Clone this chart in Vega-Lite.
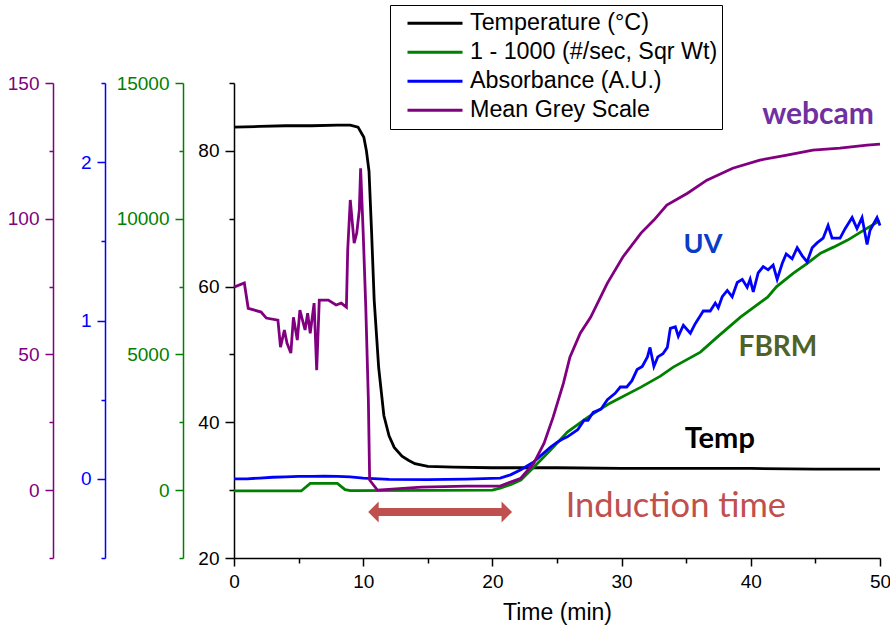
{
  "$schema": "https://vega.github.io/schema/vega-lite/v6.json",
  "width": 646,
  "height": 475,
  "autosize": {"type": "none"},
  "padding": {"left": 234, "top": 83, "right": 10, "bottom": 72},
  "background": "white",
  "config": {
    "view": {"stroke": null},
    "axis": {"labelFont": "Liberation Sans", "titleFont": "Liberation Sans", "grid": false, "labelOverlap": false, "labelFlush": false}
  },
  "datasets": {
    "temp": [
      {"t": 0, "T": 83.5}, {"t": 2, "T": 83.6}, {"t": 4, "T": 83.7}, {"t": 6, "T": 83.7}, {"t": 8, "T": 83.8},
      {"t": 9, "T": 83.8}, {"t": 9.6, "T": 83.5}, {"t": 10.05, "T": 82}, {"t": 10.25, "T": 80}, {"t": 10.45, "T": 77},
      {"t": 10.65, "T": 68}, {"t": 10.85, "T": 58}, {"t": 11.2, "T": 48}, {"t": 11.6, "T": 41}, {"t": 12, "T": 38},
      {"t": 12.4, "T": 36.3}, {"t": 13, "T": 35}, {"t": 13.5, "T": 34.4}, {"t": 14, "T": 33.9}, {"t": 15, "T": 33.5},
      {"t": 17, "T": 33.4}, {"t": 20, "T": 33.3}, {"t": 25, "T": 33.3}, {"t": 30, "T": 33.2}, {"t": 35, "T": 33.2},
      {"t": 40, "T": 33.2}, {"t": 45, "T": 33.1}, {"t": 50, "T": 33.1}
    ],
    "fbrm": [
      {"t": 0, "F": -30}, {"t": 5.2, "F": -30}, {"t": 5.9, "F": 250}, {"t": 8.0, "F": 250}, {"t": 8.6, "F": 20},
      {"t": 9, "F": -20}, {"t": 15, "F": -10}, {"t": 20, "F": 0}, {"t": 20.6, "F": 74}, {"t": 21.4, "F": 200},
      {"t": 22.2, "F": 368}, {"t": 23.2, "F": 847}, {"t": 24.5, "F": 1474}, {"t": 25.8, "F": 2137}, {"t": 27.4, "F": 2690},
      {"t": 29.1, "F": 3205}, {"t": 31.5, "F": 3795}, {"t": 33, "F": 4200}, {"t": 34, "F": 4532}, {"t": 36.1, "F": 5085},
      {"t": 37.4, "F": 5637}, {"t": 39.2, "F": 6374}, {"t": 41.3, "F": 7111}, {"t": 42, "F": 7500}, {"t": 43.3, "F": 7995},
      {"t": 44.4, "F": 8364}, {"t": 45.4, "F": 8732}, {"t": 46.4, "F": 8953}, {"t": 47.5, "F": 9212}, {"t": 48.5, "F": 9506},
      {"t": 49.8, "F": 9875}, {"t": 50, "F": 9900}
    ],
    "abs": [
      {"t": 0, "A": 0.0}, {"t": 1, "A": 0.0}, {"t": 2, "A": 0.005}, {"t": 3, "A": 0.01}, {"t": 4, "A": 0.012},
      {"t": 5, "A": 0.015}, {"t": 6, "A": 0.016}, {"t": 7, "A": 0.017}, {"t": 8, "A": 0.015}, {"t": 9, "A": 0.012},
      {"t": 10, "A": 0.005}, {"t": 12, "A": -0.003}, {"t": 15, "A": -0.005}, {"t": 18, "A": -0.002}, {"t": 20.6, "A": 0.005},
      {"t": 21.4, "A": 0.025}, {"t": 22.2, "A": 0.057}, {"t": 23.2, "A": 0.107}, {"t": 24.5, "A": 0.2}, {"t": 25.0, "A": 0.23},
      {"t": 25.4, "A": 0.25}, {"t": 25.8, "A": 0.265}, {"t": 26.6, "A": 0.31}, {"t": 27.1, "A": 0.37}, {"t": 27.4, "A": 0.37},
      {"t": 27.8, "A": 0.42}, {"t": 28.4, "A": 0.44}, {"t": 28.9, "A": 0.5}, {"t": 29.5, "A": 0.54}, {"t": 29.9, "A": 0.58},
      {"t": 30.4, "A": 0.58}, {"t": 30.8, "A": 0.62}, {"t": 31.2, "A": 0.69}, {"t": 31.6, "A": 0.71}, {"t": 32.0, "A": 0.77},
      {"t": 32.2, "A": 0.83}, {"t": 32.5, "A": 0.71}, {"t": 32.8, "A": 0.77}, {"t": 33.2, "A": 0.79}, {"t": 33.54, "A": 0.83},
      {"t": 33.77, "A": 0.95}, {"t": 34.16, "A": 0.96}, {"t": 34.39, "A": 0.9}, {"t": 34.78, "A": 0.97}, {"t": 35.32, "A": 0.92},
      {"t": 35.7, "A": 0.98}, {"t": 36.09, "A": 1.03}, {"t": 36.32, "A": 1.06}, {"t": 36.86, "A": 1.06}, {"t": 37.25, "A": 1.11},
      {"t": 37.48, "A": 1.08}, {"t": 37.79, "A": 1.15}, {"t": 38.18, "A": 1.19}, {"t": 38.56, "A": 1.15}, {"t": 38.95, "A": 1.24},
      {"t": 39.34, "A": 1.26}, {"t": 39.72, "A": 1.21}, {"t": 39.95, "A": 1.26}, {"t": 40.19, "A": 1.18}, {"t": 40.57, "A": 1.3},
      {"t": 40.96, "A": 1.34}, {"t": 41.34, "A": 1.32}, {"t": 41.73, "A": 1.35}, {"t": 42.04, "A": 1.26}, {"t": 42.43, "A": 1.36},
      {"t": 42.74, "A": 1.42}, {"t": 43.2, "A": 1.39}, {"t": 43.59, "A": 1.46}, {"t": 43.97, "A": 1.41}, {"t": 44.36, "A": 1.37},
      {"t": 44.75, "A": 1.46}, {"t": 45.13, "A": 1.49}, {"t": 45.6, "A": 1.52}, {"t": 45.98, "A": 1.6}, {"t": 46.29, "A": 1.52},
      {"t": 46.91, "A": 1.52}, {"t": 47.3, "A": 1.58}, {"t": 47.84, "A": 1.65}, {"t": 48.22, "A": 1.58}, {"t": 48.61, "A": 1.65},
      {"t": 49.0, "A": 1.48}, {"t": 49.23, "A": 1.57}, {"t": 49.77, "A": 1.65}, {"t": 50, "A": 1.6}
    ],
    "grey": [
      {"t": 0, "G": 74.8}, {"t": 0.8, "G": 76.3}, {"t": 1.1, "G": 67}, {"t": 2.1, "G": 65.6}, {"t": 2.5, "G": 63.4},
      {"t": 3.4, "G": 62.6}, {"t": 3.6, "G": 52.7}, {"t": 3.9, "G": 59}, {"t": 4.1, "G": 54.2}, {"t": 4.4, "G": 50.5},
      {"t": 4.6, "G": 63.7}, {"t": 4.9, "G": 55.3}, {"t": 5.1, "G": 66.3}, {"t": 5.5, "G": 59}, {"t": 5.7, "G": 65.2},
      {"t": 5.9, "G": 57.8}, {"t": 6.2, "G": 68.9}, {"t": 6.4, "G": 44.2}, {"t": 6.6, "G": 70}, {"t": 7.3, "G": 70},
      {"t": 7.9, "G": 68.2}, {"t": 8.3, "G": 68.9}, {"t": 8.7, "G": 67.4}, {"t": 8.8, "G": 88.4}, {"t": 9.0, "G": 106.9},
      {"t": 9.3, "G": 91}, {"t": 9.5, "G": 94.7}, {"t": 9.7, "G": 103.2}, {"t": 9.8, "G": 118.6}, {"t": 10.0, "G": 94.7},
      {"t": 10.2, "G": 67.4}, {"t": 10.4, "G": 33.2}, {"t": 10.5, "G": 3.7}, {"t": 11.1, "G": 0}, {"t": 14.5, "G": 1.1},
      {"t": 18, "G": 1.5}, {"t": 20.6, "G": 1.5}, {"t": 22.2, "G": 4.4}, {"t": 23.2, "G": 9.9}, {"t": 24, "G": 17.3},
      {"t": 24.7, "G": 26.9}, {"t": 25.5, "G": 39.4}, {"t": 26, "G": 49}, {"t": 26.8, "G": 57.8}, {"t": 27.6, "G": 63.7},
      {"t": 28.9, "G": 76.3}, {"t": 30.1, "G": 85.9}, {"t": 31.5, "G": 94.7}, {"t": 32.5, "G": 99.5}, {"t": 33.5, "G": 105},
      {"t": 35.1, "G": 109.4}, {"t": 36.6, "G": 114.2}, {"t": 38.6, "G": 118.6}, {"t": 40.7, "G": 121.6}, {"t": 42.8, "G": 123.4},
      {"t": 44.8, "G": 125.3}, {"t": 46.9, "G": 126}, {"t": 49, "G": 127.1}, {"t": 50, "G": 127.5}
    ]
  },
  "layer": [
    {
      "layer": [
        {
          "data": {"name": "temp"},
          "mark": {"type": "line", "strokeWidth": 2.8, "clip": false},
          "encoding": {
            "x": {"field": "t", "type": "quantitative",
              "scale": {"domain": [0, 50], "nice": false, "zero": false},
              "axis": {"title": "Time (min)", "values": [0, 5, 10, 15, 20, 25, 30, 35, 40, 45, 50],
                "labelExpr": "datum.value % 10 == 0 ? datum.label : ''",
                "tickSize": {"condition": {"test": "datum.value % 10 != 0", "value": 5}, "value": 8},
                "domainColor": "black", "tickColor": "black", "labelColor": "black", "domainWidth": 1.5, "tickWidth": 1.5,
                "labelFontSize": 19, "titleFontSize": 23, "titleFontWeight": "normal", "titleColor": "black", "labelPadding": 6, "titlePadding": 10}},
            "y": {"field": "T", "type": "quantitative",
              "scale": {"domain": [20, 90], "nice": false, "zero": false},
              "axis": {"title": null, "orient": "left", "values": [20, 30, 40, 50, 60, 70, 80, 90],
                "labelExpr": "datum.value % 20 == 0 ? datum.label : ''",
                "tickSize": {"condition": {"test": "datum.value % 20 != 0", "value": 5}, "value": 9},
                "domainColor": "black", "tickColor": "black", "labelColor": "black", "domainWidth": 1.5, "tickWidth": 1.5,
                "labelFontSize": 19, "labelPadding": 6}},
            "color": {"datum": "Temperature (°C)", "type": "nominal",
              "scale": {"domain": ["Temperature (°C)", "1 - 1000 (#/sec, Sqr Wt)", "Absorbance (A.U.)", "Mean Grey Scale"],
                "range": ["#000000", "#008000", "#0000FF", "#800080"]},
              "legend": {"orient": "none", "legendX": 156, "legendY": -78, "title": null,
                "symbolType": "stroke", "symbolSize": 3025, "symbolStrokeWidth": 3, "clipHeight": 28.7, "symbolOffset": 12,
                "labelFontSize": 23.3, "labelFont": "Liberation Sans", "labelColor": "black", "labelLimit": 500,
                "labelExpr": "datum.label + '\u00a0\u00a0\u00a0'",
                "strokeColor": "black", "fillColor": "white", "padding": 4, "labelOffset": 6, "rowPadding": 0}}
          }
        },
        {
          "data": {"values": [{"t": 45.2, "T": 85.3, "label": "webcam"}]},
          "mark": {"type": "text", "font": "Lato", "fontWeight": "bold", "fontSize": 30, "color": "#7030A0", "align": "center", "baseline": "middle", "clip": false},
          "encoding": {"x": {"field": "t", "type": "quantitative"}, "y": {"field": "T", "type": "quantitative"}, "text": {"field": "label"}}
        },
        {
          "data": {"values": [{"t": 36.3, "T": 66.1, "label": "UV"}]},
          "mark": {"type": "text", "font": "Lato", "fontWeight": "bold", "fontSize": 27, "color": "#0A3CC8", "align": "center", "baseline": "middle"},
          "encoding": {"x": {"field": "t", "type": "quantitative"}, "y": {"field": "T", "type": "quantitative"}, "text": {"field": "label"}}
        },
        {
          "data": {"values": [{"t": 42.1, "T": 50.9, "label": "FBRM"}]},
          "mark": {"type": "text", "font": "Lato", "fontWeight": "bold", "fontSize": 28, "color": "#4F6228", "align": "center", "baseline": "middle"},
          "encoding": {"x": {"field": "t", "type": "quantitative"}, "y": {"field": "T", "type": "quantitative"}, "text": {"field": "label"}}
        },
        {
          "data": {"values": [{"t": 37.6, "T": 37.6, "label": "Temp"}]},
          "mark": {"type": "text", "font": "Lato", "fontWeight": "bold", "fontSize": 29, "color": "#000000", "align": "center", "baseline": "middle"},
          "encoding": {"x": {"field": "t", "type": "quantitative"}, "y": {"field": "T", "type": "quantitative"}, "text": {"field": "label"}}
        },
        {
          "data": {"values": [{"t": 34.2, "T": 27.5, "label": "Induction time"}]},
          "mark": {"type": "text", "font": "Lato", "fontWeight": "normal", "fontSize": 34.5, "color": "#C0504D", "align": "center", "baseline": "middle"},
          "encoding": {"x": {"field": "t", "type": "quantitative"}, "y": {"field": "T", "type": "quantitative"}, "text": {"field": "label"}}
        },
        {
          "data": {"values": [{"t1": 11.0, "t2": 20.9, "T": 26.78}]},
          "mark": {"type": "rule", "color": "#C0504D", "strokeWidth": 8},
          "encoding": {"x": {"field": "t1", "type": "quantitative"}, "x2": {"field": "t2"}, "y": {"field": "T", "type": "quantitative"}}
        },
        {
          "data": {"values": [{"t": 11.2, "T": 26.78}]},
          "mark": {"type": "point", "shape": "M-1,0L0,-1L0,1Z", "size": 441, "filled": true, "opacity": 1, "color": "#C0504D"},
          "encoding": {"x": {"field": "t", "type": "quantitative"}, "y": {"field": "T", "type": "quantitative"}}
        },
        {
          "data": {"values": [{"t": 20.71, "T": 26.78}]},
          "mark": {"type": "point", "shape": "M1,0L0,-1L0,1Z", "size": 441, "filled": true, "opacity": 1, "color": "#C0504D"},
          "encoding": {"x": {"field": "t", "type": "quantitative"}, "y": {"field": "T", "type": "quantitative"}}
        }
      ]
    },
    {
      "data": {"name": "fbrm"},
      "mark": {"type": "line", "strokeWidth": 2.8},
      "encoding": {
        "x": {"field": "t", "type": "quantitative"},
        "y": {"field": "F", "type": "quantitative",
          "scale": {"domain": [-2500, 15000], "nice": false, "zero": false},
          "axis": {"title": null, "orient": "left", "offset": 51, "values": [-2500, 0, 2500, 5000, 7500, 10000, 12500, 15000],
            "format": "d", "labelExpr": "datum.value % 5000 == 0 ? datum.label : ''",
            "tickSize": {"condition": {"test": "datum.value % 5000 != 0", "value": 4}, "value": 8},
            "domainColor": "#008000", "tickColor": "#008000", "labelColor": "#008000", "domainWidth": 1.5, "tickWidth": 1.5,
            "labelFontSize": 19, "labelPadding": 6}},
        "color": {"datum": "1 - 1000 (#/sec, Sqr Wt)", "type": "nominal"}
      }
    },
    {
      "data": {"name": "abs"},
      "mark": {"type": "line", "strokeWidth": 2.8},
      "encoding": {
        "x": {"field": "t", "type": "quantitative"},
        "y": {"field": "A", "type": "quantitative",
          "scale": {"domain": [-0.5, 2.5], "nice": false, "zero": false},
          "axis": {"title": null, "orient": "left", "offset": 129, "values": [-0.5, 0, 0.5, 1, 1.5, 2, 2.5],
            "labelExpr": "datum.value % 1 == 0 ? format(datum.value, 'd') : ''",
            "tickSize": {"condition": {"test": "datum.value % 1 != 0", "value": 4}, "value": 8},
            "domainColor": "#0000FF", "tickColor": "#0000FF", "labelColor": "#0000FF", "domainWidth": 1.5, "tickWidth": 1.5,
            "labelFontSize": 19, "labelPadding": 6}},
        "color": {"datum": "Absorbance (A.U.)", "type": "nominal"}
      }
    },
    {
      "data": {"name": "grey"},
      "mark": {"type": "line", "strokeWidth": 2.8},
      "encoding": {
        "x": {"field": "t", "type": "quantitative"},
        "y": {"field": "G", "type": "quantitative",
          "scale": {"domain": [-25, 150], "nice": false, "zero": false},
          "axis": {"title": null, "orient": "left", "offset": 181, "values": [-25, 0, 25, 50, 75, 100, 125, 150],
            "labelExpr": "datum.value % 50 == 0 ? datum.label : ''",
            "tickSize": {"condition": {"test": "datum.value % 50 != 0", "value": 4}, "value": 8},
            "domainColor": "#800080", "tickColor": "#800080", "labelColor": "#800080", "domainWidth": 1.5, "tickWidth": 1.5,
            "labelFontSize": 19, "labelPadding": 6}},
        "color": {"datum": "Mean Grey Scale", "type": "nominal"}
      }
    }
  ],
  "resolve": {"scale": {"y": "independent"}, "axis": {"y": "independent"}}
}
